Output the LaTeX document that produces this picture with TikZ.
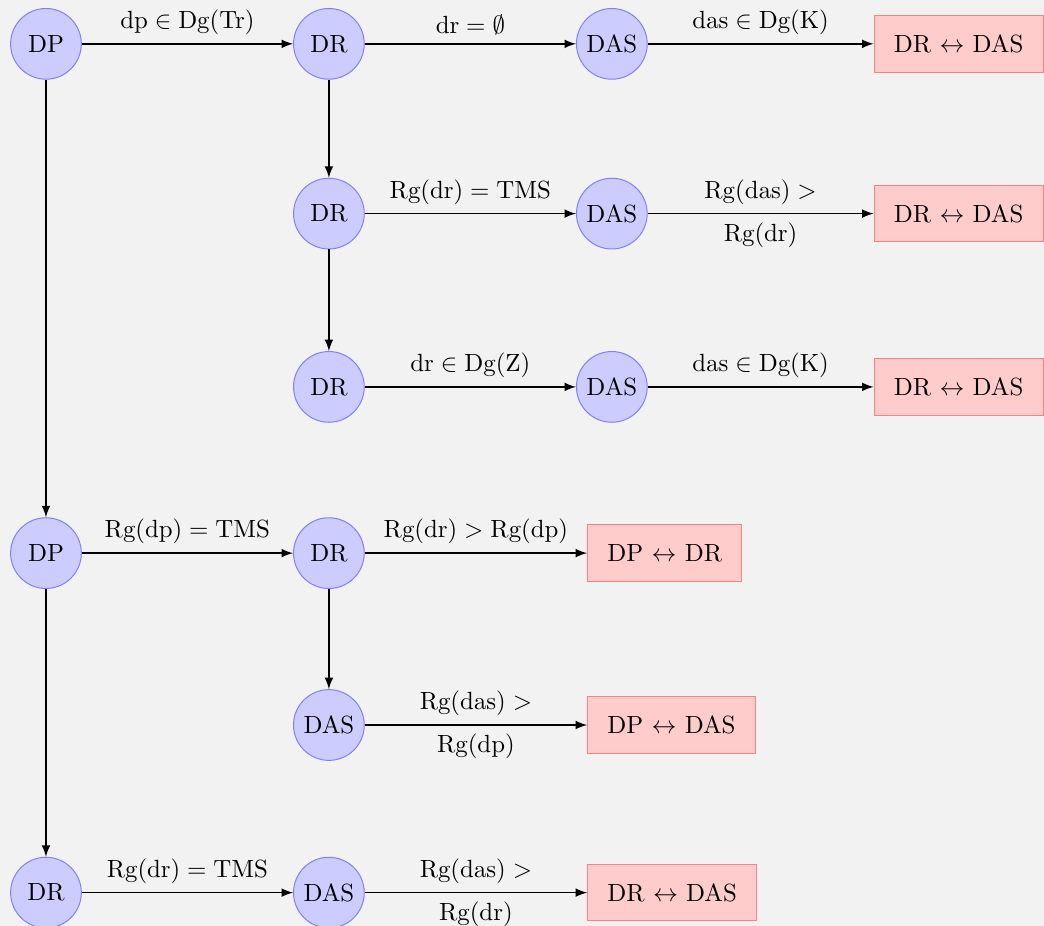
\documentclass[tikz,border=0pt]{standalone}
\begin{document}
\begin{tikzpicture}[
        st/.style={circle,draw=blue!50,fill=blue!20,minimum size=1cm,inner sep=0pt},
        res/.style={rectangle,draw=red!50,fill=red!20,minimum height=0.8cm,inner xsep=8pt,anchor=west},
        arr/.style={draw,semithick,-latex}]
        \useasboundingbox[fill=gray!10] (-0.65,0.62) rectangle (14.11,-12.47);

        \node[st] (dp1) at (0,0) {DP};
        \node[st] (dr1) at (4,0) {DR};
        \node[st] (das1) at (8,0) {DAS};
        \node[res] (sw1) at (11.7,0) {DR $\leftrightarrow$ DAS};

        \node[st] (dr2) at (4,-2.4) {DR};
        \node[st] (das2) at (8,-2.4) {DAS};
        \node[res] (sw2) at (11.7,-2.4) {DR $\leftrightarrow$ DAS};

        \node[st] (dr3) at (4,-4.85) {DR};
        \node[st] (das3) at (8,-4.85) {DAS};
        \node[res] (sw3) at (11.7,-4.85) {DR $\leftrightarrow$ DAS};

        \node[st] (dp4) at (0,-7.2) {DP};
        \node[st] (dr4) at (4,-7.2) {DR};
        \node[res] (sw4) at (7.65,-7.2) {DP $\leftrightarrow$ DR};

        \node[st] (das5) at (4,-9.63) {DAS};
        \node[res] (sw5) at (7.65,-9.63) {DP $\leftrightarrow$ DAS};

        \node[st] (dr6) at (0,-12) {DR};
        \node[st] (das6) at (4,-12) {DAS};
        \node[res] (sw6) at (7.65,-12) {DR $\leftrightarrow$ DAS};

        \path[arr] (dp1) -- node[above] {$\mathrm{dp}\in\mathrm{Dg(Tr)}$} (dr1);
        \path[arr] (dr1) -- node[above] {$\mathrm{dr}=\emptyset$} (das1);
        \path[arr] (das1) -- node[above] {$\mathrm{das}\in\mathrm{Dg(K)}$} (sw1);

        \path[arr] (dr2) -- node[above] {$\mathrm{Rg(dr)}=\mathrm{TMS}$} (das2);
        \path[arr] (das2) -- node[above] {$\mathrm{Rg(das)}>$} node[below] {$\mathrm{Rg(dr)}$} (sw2);

        \path[arr] (dr3) -- node[above] {$\mathrm{dr}\in\mathrm{Dg(Z)}$} (das3);
        \path[arr] (das3) -- node[above] {$\mathrm{das}\in\mathrm{Dg(K)}$} (sw3);

        \path[arr] (dp4) -- node[above] {$\mathrm{Rg(dp)}=\mathrm{TMS}$} (dr4);
        \path[arr] (dr4) -- node[above] {$\mathrm{Rg(dr)}>\mathrm{Rg(dp)}$} (sw4);

        \path[arr] (das5) -- node[above] {$\mathrm{Rg(das)}>$} node[below] {$\mathrm{Rg(dp)}$} (sw5);

        \path[arr] (dr6) -- node[above] {$\mathrm{Rg(dr)}=\mathrm{TMS}$} (das6);
        \path[arr] (das6) -- node[above] {$\mathrm{Rg(das)}>$} node[below] {$\mathrm{Rg(dr)}$} (sw6);

        % vertical links
        \path[arr] (dp1) -- (dp4);
        \path[arr] (dp4) -- (dr6);
        \path[arr] (dr1) -- (dr2);
        \path[arr] (dr2) -- (dr3);
        \path[arr] (dr4) -- (das5);
    \end{tikzpicture}
\end{document}
